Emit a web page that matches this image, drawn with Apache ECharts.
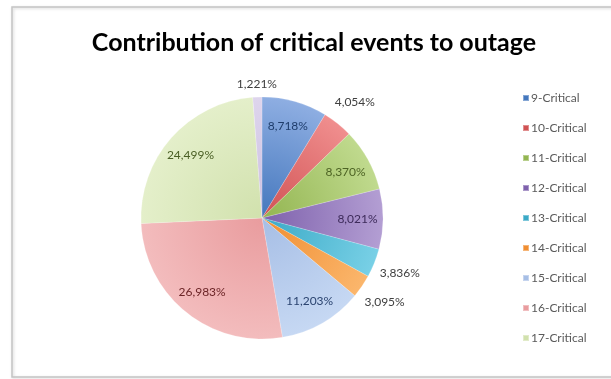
<!DOCTYPE html>
<html>
<head>
<meta charset="utf-8">
<script src="https://cdn.jsdelivr.net/npm/echarts@6/dist/echarts.min.js"></script>
<style>
  html, body { margin: 0; padding: 0; background: #ffffff; }
  #chart { width: 611px; height: 379px; }
</style>
</head>
<body>
<div id="chart"></div>
<script>
// Share of outage caused by each critical-event class (percent)
const categories = ['9-Critical', '10-Critical', '11-Critical', '12-Critical', '13-Critical',
                    '14-Critical', '15-Critical', '16-Critical', '17-Critical', '18-Critical'];
const shares = [8.718, 4.054, 8.370, 8.021, 3.836, 3.095, 11.203, 26.983, 24.499, 1.221];
// Classes listed in the legend
const legendNames = categories.slice(0, 9);
// Slices whose value label sits outside the pie: close to the rim, or further out
const nearRimLabelled = ['18-Critical'];
const farRimLabelled = ['10-Critical', '13-Critical', '14-Critical'];

// Slice fills: [inner, outer] colour of the radial shading
const fills = [
  ['#4477bd', '#8eaee2'], ['#d05253', '#f08e8e'], ['#93b551', '#c0da8e'],
  ['#7e61ac', '#b39ed3'], ['#3aa9c6', '#78d0e6'], ['#f08e31', '#fbb66c'],
  ['#a6bee5', '#c6d8f3'], ['#e99c9e', '#f3bcbd'], ['#d1e1ad', '#e4efca'],
  ['#cbbfe0', '#ded5ed']
];
const labelInk = ['#1f3d6b', '#404040', '#4d6324', '#3d2b5a', '#404040',
                  '#404040', '#2b4470', '#6b2426', '#4a5f25', '#404040'];

const cx = 262, cy = 218, R = 121;

function fmt(v) {
  return v.toFixed(3).replace('.', ',') + '%';
}

const chart = echarts.init(document.getElementById('chart'), null, { renderer: 'canvas' });

const baseData = categories.map((name, i) => ({
  name: name,
  value: shares[i],
  itemStyle: {
    color: new echarts.graphic.RadialGradient(cx, cy, R, [
      { offset: 0, color: fills[i][0] },
      { offset: 1, color: fills[i][1] }
    ], true)
  }
}));

// Label-only copy of the data; shows labels for the names in `which`
function labelData(which) {
  return categories.map((name, i) => ({
    name: name,
    value: shares[i],
    label: { show: which.indexOf(name) >= 0, color: labelInk[i] }
  }));
}

const insideLabelled = categories.filter(n =>
  nearRimLabelled.indexOf(n) < 0 && farRimLabelled.indexOf(n) < 0);

const labelFont = { fontFamily: 'Lato', fontSize: 12 };

// Transparent ring whose centred "inside" labels land on its mid radius
function labelRing(r0, r1, names) {
  return {
    type: 'pie',
    center: [cx, cy],
    radius: [r0, r1],
    startAngle: 90,
    silent: true,
    itemStyle: { color: 'rgba(0,0,0,0)' },
    label: Object.assign({ position: 'inside', formatter: p => fmt(p.value) }, labelFont),
    labelLine: { show: false },
    emphasis: { disabled: true },
    data: labelData(names)
  };
}

chart.setOption({
  backgroundColor: '#ffffff',
  animation: false,
  title: {
    text: 'Contribution of critical events to outage',
    left: 309,
    textAlign: 'center',
    top: 25,
    textStyle: { fontFamily: 'Lato', fontWeight: 'bold', fontSize: 25, color: '#000000' }
  },
  legend: {
    orient: 'vertical',
    left: 517,
    top: 86,
    data: legendNames.map((n, i) => ({ name: n, itemStyle: { color: fills[i][0] } })),
    icon: 'rect',
    itemWidth: 6,
    itemHeight: 6,
    itemGap: 16,
    textStyle: { fontFamily: 'Lato', fontSize: 12, lineHeight: 14, color: '#5a5a5a', padding: [0, 0, 0, -3] },
    selectedMode: false
  },
  graphic: [{
    type: 'rect',
    shape: { x: 12, y: 7, width: 640, height: 370 },
    style: {
      fill: 'transparent', stroke: '#c4c4c4', lineWidth: 1.5,
      shadowBlur: 3, shadowColor: 'rgba(0,0,0,0.18)', shadowOffsetX: 1, shadowOffsetY: 1
    },
    silent: true,
    z: -1
  }],
  series: [
    {
      type: 'pie',
      center: [cx, cy],
      radius: R,
      startAngle: 90,
      clockwise: true,
      label: { show: false },
      labelLine: { show: false },
      itemStyle: { borderColor: 'rgba(255,255,255,0.35)', borderWidth: 0.5 },
      emphasis: { disabled: true },
      data: baseData
    },
    labelRing(64, R, insideLabelled),
    labelRing(R, 140, nearRimLabelled),
    labelRing(R, 170, farRimLabelled)
  ]
});
</script>
</body>
</html>
